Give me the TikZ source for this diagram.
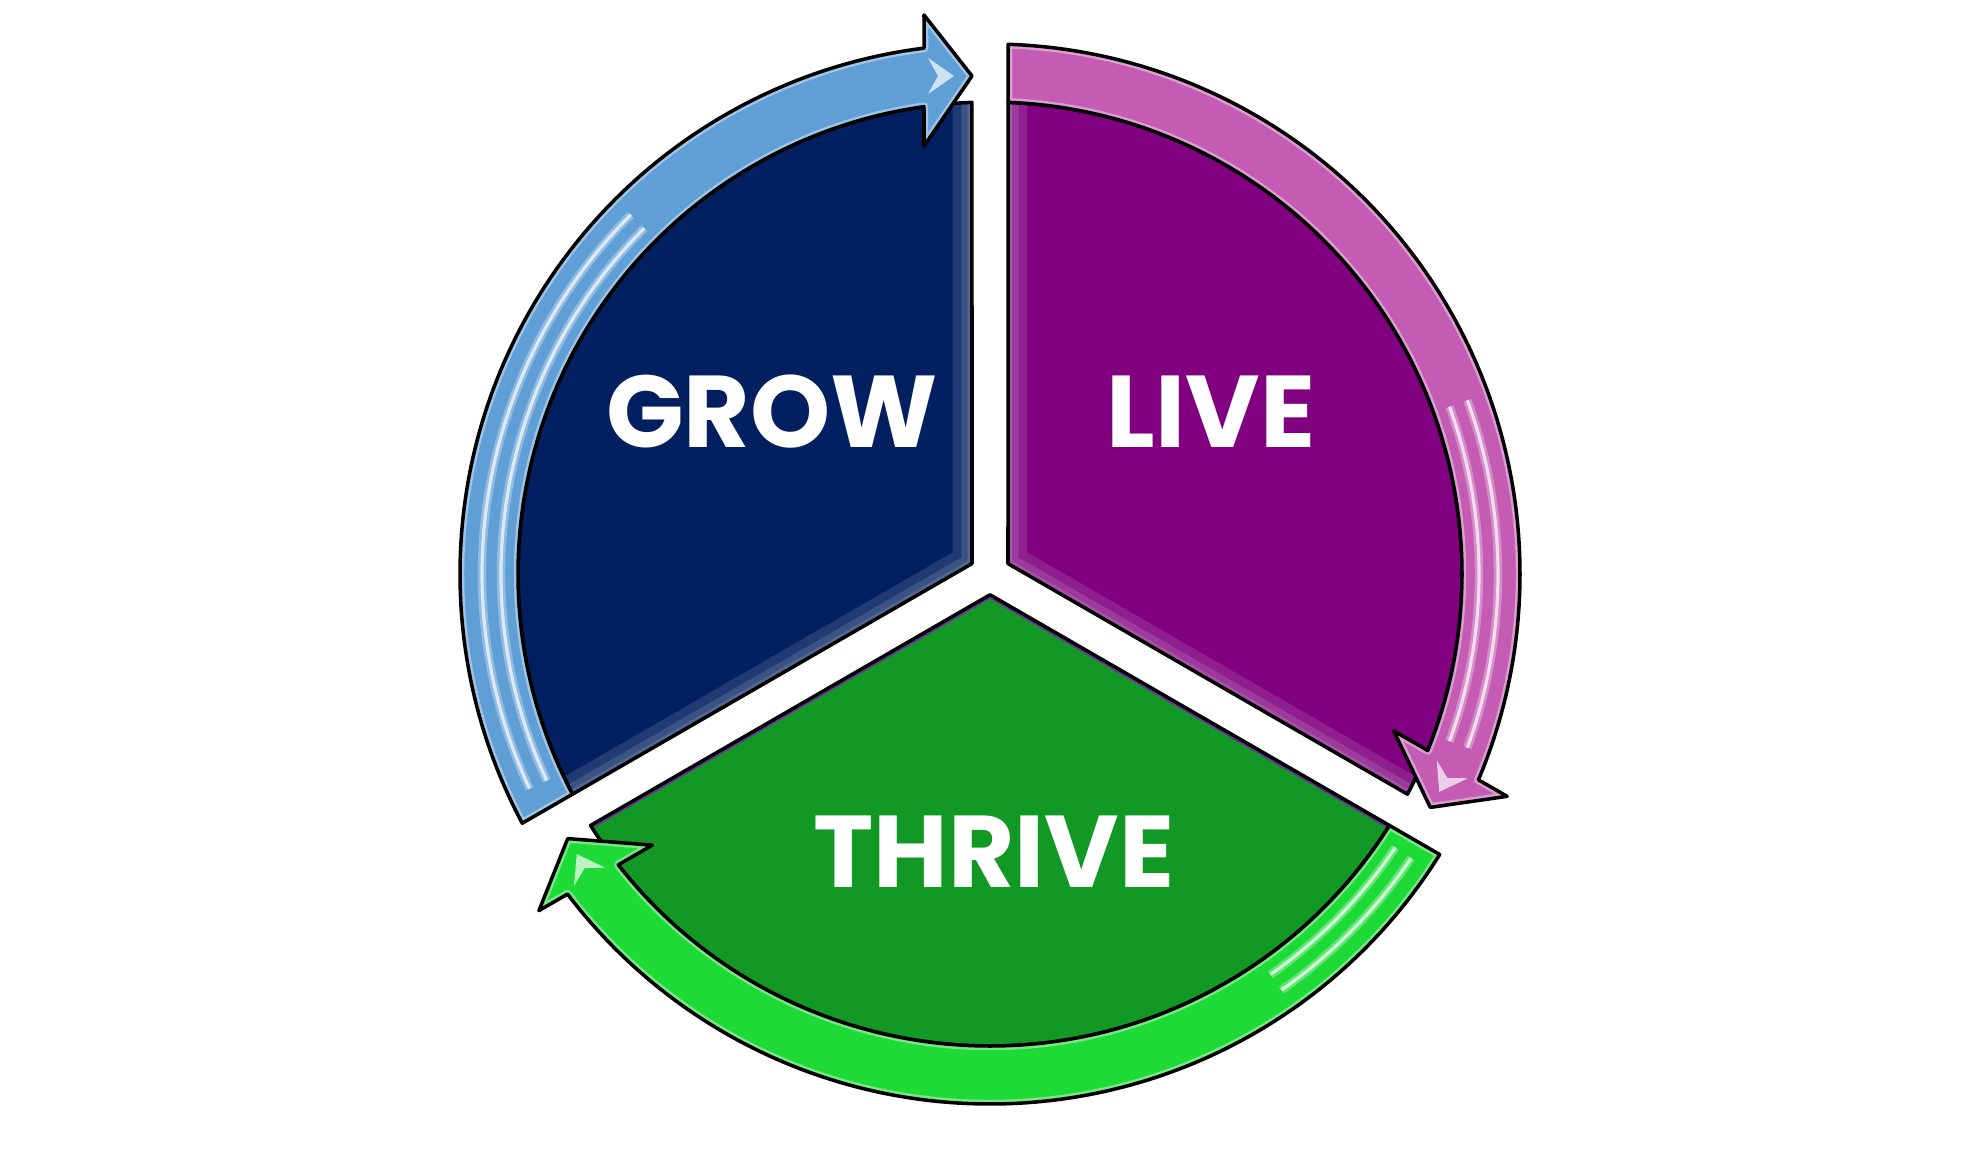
\documentclass[tikz,border=0pt]{standalone}
\usepackage{fontspec}
\newfontfamily\labelfont{Poppins}
\definecolor{growblue}{RGB}{2,32,96}
\definecolor{growarrow}{RGB}{96,158,214}
\definecolor{livepurple}{RGB}{128,0,128}
\definecolor{livearrow}{RGB}{196,92,180}
\definecolor{thrivegreen}{RGB}{18,152,36}
\definecolor{thrivearrow}{RGB}{30,218,55}
\definecolor{thriveedge}{RGB}{112,48,160}
\newcommand{\wedgepath}{(-18,10.39) -- (92.19:472) arc[start angle=92.19, end angle=207.81, radius=472] -- cycle}
\newcommand{\wedgeedges}{(92.19:472) -- (-18,10.39) -- (207.81:472)}
\newcommand{\arrowpath}{(208.05:530) arc[start angle=208.05, end angle=97.15, radius=530] -- (-66,559) -- (-18,498) -- (-66,428) -- (98.04:472) arc[start angle=98.04, end angle=207.81, radius=472] -- cycle}

\begin{document}
\begin{tikzpicture}[x=.01cm, y=.01cm, line join=round,
    rimline/.style={draw=black, line width=1pt},
    rimglow/.style={white, opacity=.4, line width=2.4pt},
    gloss/.style={white, opacity=.3, line width=2.4pt},
    glint/.style={white, opacity=.7, line width=.9pt},
    segtext/.style={text=white, inner sep=0pt, font=\labelfont\bfseries\fontsize{29}{30}\selectfont}]
\useasboundingbox (-990,-581) rectangle (990,574);

% the three wedges
\foreach \rot/\wcol/\ecol/\bop in {0/growblue/growblue/.12, -120/livepurple/livepurple/.12, 120/thrivegreen/thriveedge/0}
{
\begin{scope}[rotate=\rot]
    \fill[\wcol] \wedgepath;
    \begin{scope}
        \clip \wedgepath;
        \draw[\ecol, line width=2pt] \wedgeedges;
        \draw[white, opacity=\bop, line width=11pt] \wedgeedges;
        \draw[white, opacity=\bop, line width=6pt] \wedgeedges;
        \draw[white, opacity=\bop, line width=2.5pt] \wedgeedges;
    \end{scope}
    \draw[rimline] \wedgepath;
\end{scope}
}

% the three arrows round the rim
\foreach \rot/\acol/\sa/\sb in {0/growarrow/205/135, -120/livearrow/140/100, 120/thrivearrow/206/185}
{
\begin{scope}[rotate=\rot]
    \fill[\acol] \arrowpath;
    \begin{scope}
        \clip \arrowpath;
        \draw[rimglow] \arrowpath;
        \foreach \sr in {489,508}
        {
            \draw[gloss] (\sa:\sr) arc[start angle=\sa, end angle=\sb, radius=\sr];
            \draw[glint] (\sa:\sr) arc[start angle=\sa, end angle=\sb, radius=\sr];
        }
        \fill[white, opacity=.7] (-62,480) -- (-36,498) -- (-62,516) -- (-52,498) -- cycle;
    \end{scope}
    \draw[rimline] \arrowpath;
\end{scope}
}

\node[segtext] (grow) at (-218,162) {GROW};
\node[segtext] (live) at (221,162) {LIVE};
\node[segtext] (thrive) at (4,-278) {THRIVE};

\end{tikzpicture}
\end{document}
